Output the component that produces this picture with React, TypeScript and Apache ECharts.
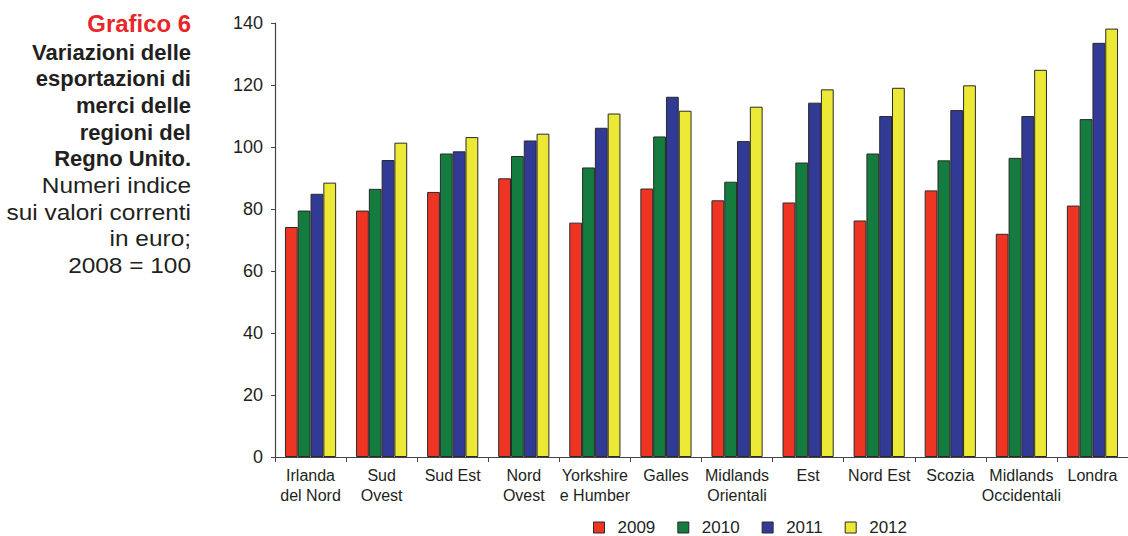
import React, { useEffect, useRef } from "react";
import * as echarts from "echarts";

// Regions (x-axis categories)
const regions = [
  "Irlanda\ndel Nord",
  "Sud\nOvest",
  "Sud Est",
  "Nord\nOvest",
  "Yorkshire\ne Humber",
  "Galles",
  "Midlands\nOrientali",
  "Est",
  "Nord Est",
  "Scozia",
  "Midlands\nOccidentali",
  "Londra",
];

// Export index values, 2008 = 100
const v2009 = [74.2, 79.5, 85.5, 89.9, 75.6, 86.6, 82.8, 82.1, 76.3, 86.0, 72.0, 81.1];
const v2010 = [79.5, 86.5, 97.9, 97.1, 93.4, 103.4, 88.8, 95.0, 97.9, 95.7, 96.5, 109.0];
const v2011 = [84.9, 95.8, 98.6, 102.1, 106.2, 116.2, 101.9, 114.3, 110.0, 111.9, 110.0, 133.6];
const v2012 = [88.5, 101.4, 103.2, 104.3, 110.8, 111.7, 113.0, 118.6, 119.1, 119.9, 124.9, 138.2];

const years = ["2009", "2010", "2011", "2012"];
const yearColors = ["#ee3524", "#137c3e", "#313a94", "#ece936"];

// Side caption lines
const captionHead = "Grafico 6";
const titleBold = ["Variazioni delle", "esportazioni di", "merci delle", "regioni del", "Regno Unito."];
const titleNormal = ["Numeri indice", "sui valori correnti", "in euro;", "2008 = 100"];

const FONT = "'Liberation Sans', Arial, Helvetica, sans-serif";

export default function App() {
  const ref = useRef<HTMLDivElement>(null);

  useEffect(() => {
    document.body.style.margin = "0";
    if (!ref.current) return;
    const chart = echarts.init(ref.current, null, { renderer: "svg" });

    const seriesData = [v2009, v2010, v2011, v2012];
    const captionX = 191;
    const firstBase = 60;
    const step = 26.65;

    const textLine = (text: string, baseline: number, size: number, bold: boolean, fill: string, sx: number) => ({
      type: "text",
      x: captionX,
      y: baseline - size * 0.35,
      scaleX: sx,
      style: {
        text,
        fill,
        font: `${bold ? "bold " : ""}${size}px ${FONT}`,
        align: "right",
        verticalAlign: "middle",
      },
    });

    const graphics: any[] = [textLine(captionHead, 32.5, 23, true, "#e8262a", 1.04)];
    titleBold.forEach((t, i) => {
      graphics.push(textLine(t, firstBase + step * i, 22, true, "#231f20", 1.0));
    });
    titleNormal.forEach((t, i) => {
      graphics.push(textLine(t, firstBase + step * (i + titleBold.length), 22, false, "#231f20", 1.11));
    });

    chart.setOption({
      animation: false,
      textStyle: { fontFamily: FONT },
      grid: { left: 275, top: 23, bottom: 79, right: -7, containLabel: false },
      legend: {
        data: years,
        left: 593,
        top: 519,
        padding: 0,
        icon: "rect",
        itemWidth: 11,
        itemHeight: 11,
        itemGap: 22,
        itemStyle: { borderColor: "#2a2a2a", borderWidth: 1 },
        textStyle: {
          fontSize: 17,
          lineHeight: 16,
          color: "#231f20",
          fontFamily: FONT,
          padding: [0, 0, 0, 8],
        },
      },
      xAxis: {
        type: "category",
        data: regions,
        axisLine: { lineStyle: { color: "#444", width: 1.2 } },
        axisTick: { show: true, length: 5, lineStyle: { color: "#444" } },
        axisLabel: {
          color: "#231f20",
          fontSize: 16,
          lineHeight: 20,
          margin: 8,
          interval: 0,
          fontFamily: FONT,
        },
      },
      yAxis: {
        type: "value",
        min: 0,
        max: 140,
        interval: 20,
        splitLine: { show: false },
        axisLine: { show: true, lineStyle: { color: "#444", width: 1.2 } },
        axisTick: { show: true, length: 4, lineStyle: { color: "#444" } },
        axisLabel: { color: "#231f20", fontSize: 18, margin: 12, fontFamily: FONT },
      },
      series: years.map((y, i) => ({
        name: y,
        type: "bar",
        data: seriesData[i],
        barGap: "0%",
        barCategoryGap: "28%",
        itemStyle: { color: yearColors[i], borderColor: "#2a2a2a", borderWidth: 1 },
      })),
      graphic: graphics,
    });

    return () => chart.dispose();
  }, []);

  return <div ref={ref} style={{ width: 1128, height: 536 }} />;
}
